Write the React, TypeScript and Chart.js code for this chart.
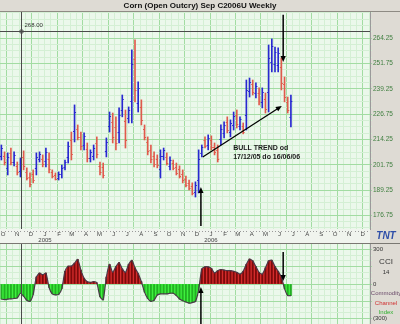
import React, { useEffect, useRef } from 'react';
import { Chart, registerables } from 'chart.js';
Chart.register(...registerables);

const FONT = 'Arial, "Liberation Sans", sans-serif';
const TITLE = 'Corn (Open Outcry) Sep C2006U Weekly';

// weekly bars, first week
const FIRST_WEEK = '2004-09-27';
const HIGHS = [
  211.5, 208.1, 207.6, 210.0, 208.1, 203.1, 205.1, 208.6, 200.2, 197.7,
  199.2, 207.6, 208.1, 206.6, 210.0, 207.6, 199.2, 197.7, 198.2, 201.6,
  204.1, 213.0, 217.9, 231.3, 221.4, 217.9, 217.5, 212.5, 209.1, 211.5,
  215.5, 203.1, 202.6, 215.0, 227.8, 227.3, 225.4, 229.8, 236.2, 228.8,
  230.3, 258.5, 263.4, 242.7, 233.8, 221.4, 215.5, 211.5, 208.1, 206.6,
  209.1, 210.0, 207.6, 205.6, 204.1, 202.6, 201.2, 199.2, 196.2, 194.2,
  192.8, 193.3, 209.1, 211.5, 215.5, 216.5, 216.0, 212.5, 211.5, 221.4,
  222.9, 225.4, 223.9, 227.8, 228.8, 225.4, 222.4, 243.6, 244.6, 243.6,
  242.2, 239.7, 239.7, 237.2, 260.9, 263.9, 259.9, 259.5, 254.5, 245.1,
  235.2, 236.2,
];
const LOWS = [
  204.1, 201.6, 196.7, 201.6, 201.2, 196.7, 195.7, 199.2, 194.2, 190.8,
  192.8, 196.7, 203.1, 200.7, 200.7, 197.7, 195.2, 194.2, 194.2, 195.2,
  199.2, 202.6, 204.1, 213.0, 214.0, 209.1, 209.1, 203.1, 203.1, 204.1,
  205.1, 196.7, 195.2, 205.6, 217.9, 212.5, 209.1, 212.5, 225.4, 210.0,
  222.4, 222.4, 232.8, 227.8, 221.4, 214.0, 206.6, 202.6, 200.7, 200.2,
  195.2, 204.1, 201.6, 199.2, 199.2, 196.7, 195.2, 192.8, 190.8, 189.3,
  186.8, 185.8, 187.8, 205.6, 210.0, 209.1, 209.1, 206.6, 203.1, 211.5,
  215.0, 217.5, 215.5, 218.9, 219.9, 218.9, 217.0, 218.9, 235.2, 236.2,
  234.8, 231.3, 229.8, 227.3, 227.8, 247.6, 247.6, 247.6, 238.7, 232.8,
  227.3, 220.4,
];
const OPENS = [
  206.3, 206.2, 200.0, 207.5, 203.3, 201.2, 198.5, 205.8, 198.4, 195.6,
  197.3, 200.0, 204.6, 204.8, 203.5, 204.6, 198.0, 196.6, 195.4, 197.1,
  200.7, 205.7, 213.8, 218.5, 219.2, 215.3, 211.6, 209.7, 204.9, 206.3,
  212.4, 201.2, 200.4, 208.4, 220.9, 222.9, 220.5, 217.7, 228.6, 223.2,
  224.8, 233.2, 254.2, 232.3, 230.1, 219.2, 212.8, 208.8, 205.9, 204.7,
  199.4, 205.9, 205.8, 201.1, 202.6, 200.8, 199.4, 197.3, 194.6, 192.7,
  191.0, 188.1, 194.2, 207.4, 213.9, 211.3, 213.9, 210.7, 209.0, 214.5,
  217.4, 223.0, 218.0, 221.6, 226.1, 220.9, 220.8, 226.3, 238.0, 241.4,
  237.0, 237.2, 232.8, 234.2, 237.7, 252.5, 251.3, 251.2, 249.8, 241.4,
  232.8, 225.1,
];
const CLOSES = [
  210.0, 202.9, 205.4, 203.3, 206.7, 198.0, 203.2, 201.1, 195.4, 192.2,
  194.1, 205.4, 207.1, 201.9, 208.1, 199.7, 196.0, 194.9, 197.4, 200.3,
  203.1, 210.9, 206.9, 227.6, 215.5, 210.9, 215.8, 205.0, 207.9, 210.0,
  207.2, 198.0, 196.7, 213.1, 225.8, 215.5, 212.4, 226.3, 234.0, 213.8,
  228.7, 251.3, 238.9, 239.7, 223.9, 215.5, 208.4, 204.4, 202.2, 201.5,
  206.3, 208.8, 202.8, 204.3, 200.2, 197.9, 196.4, 194.1, 191.9, 190.3,
  188.0, 191.8, 204.8, 210.3, 211.1, 215.0, 210.5, 207.8, 204.8, 219.4,
  221.3, 219.1, 222.2, 226.0, 221.7, 224.1, 218.1, 238.7, 242.7, 237.7,
  240.7, 233.0, 237.7, 229.3, 254.3, 260.6, 257.4, 257.1, 241.9, 235.3,
  228.9, 233.0,
];
const CCI = [
  -130, -135, -130, -128, -125, -120, -80, -105, -140, -150,
  -90, 60, 94, 80, 94, -30, -85, -94, -90, -40,
  110, 154, 154, 180, 213, 120, 50, 20, 15, 20,
  10, -110, -137, 60, 170, 100, 150, 185, 130, 100,
  170, 205, 140, 90, 20, -70, -125, -150, -140, -95,
  -85, -85, -85, -80, -80, -100, -130, -145, -155, -165,
  -160, -150, -50, 130, 148, 148, 135, 95, 115, 125,
  120, 115, 115, 110, 100, 85, 110, 170, 215, 200,
  150, 100, 85, 140, 200, 205, 150, 110, 60, -40,
  -100, -100,
];

// axes
const X_START = '2004-09-24';
const X_END = '2006-12-17';
const GRID_ANCHOR = '2004-12-03';
const MONTH_LETTERS = ['J', 'F', 'M', 'A', 'M', 'J', 'J', 'A', 'S', 'O', 'N', 'D'];
const PRICE_MIN = 170.0;
const PRICE_MAX = 277.2;
const PRICE_LABELS = ['176.75', '189.25', '201.75', '214.25', '226.75', '239.25', '251.75', '264.25'];
const CCI_MIN = -345;
const CCI_MAX = 345;
const CCI_LABEL_VALUES = [300, 0, -300];
const CCI_LABEL_TEXT = ['300', '0', '(300)'];
const CCI_SIDE_TEXT = ['CCI', '14', 'Commodity', 'Channel', 'Index'];

// annotations
const CROSS_DATE = '2004-11-09';
const CROSS_PRICE = 268.0;
const CROSS_LABEL = '268.00';
const UP_ARROW = { date: '2005-12-10', from: 171.5, to: 190.8 };
const DOWN_ARROW = { date: '2006-06-09', from: 275.8, to: 252.5 };
const TREND = { d1: '2005-12-14', p1: 205.6, d2: '2006-06-06', p2: 230.8 };
const NOTE_LINES = ['BULL TREND od', '17/12/05 do 16/06/06'];
const NOTE_DATE = '2006-02-19';
const NOTE_PRICES = [210.0, 205.3];
const CCI_UP = { date: '2005-12-10', from: -345, to: -26 };
const CCI_DOWN = { date: '2006-06-09', from: 276, to: 26 };

const BLUE = '#2828d0';
const RED = '#e05a4c';
const PANEL_BG = '#dedbd4';
const PLOT_BG = '#ebf8eb';
const BAND_BG = '#f0f4ee';
const GRID_MAJOR = '#a2dca2';
const GRID_MINOR = '#d4efd4';

const BASE = Date.UTC(2005, 0, 1);
function dayOf(s: string) {
  const [y, m, d] = s.split('-').map(Number);
  return Math.round((Date.UTC(y, m - 1, d) - BASE) / 86400000);
}
const X_MIN = dayOf(X_START);
const X_MAX = dayOf(X_END);
const WEEKS = HIGHS.map((_, i) => dayOf(FIRST_WEEK) + 7 * i);

const GRID_DAYS: number[] = [];
{
  const a = dayOf(GRID_ANCHOR);
  let v = a;
  while (v - 14 >= X_MIN) v -= 14;
  for (; v <= X_MAX; v += 14) GRID_DAYS.push(v);
}
const isMajorDay = (v: number) => (((v - dayOf(GRID_ANCHOR)) % 56) + 56) % 56 === 0;

const MONTHS: { day: number; label: string | string[] }[] = [];
{
  let y = 2004, m = 9;
  while (true) {
    const d = Math.round((Date.UTC(y, m, 1) - BASE) / 86400000);
    if (d > X_MAX) break;
    if (d >= X_MIN) MONTHS.push({ day: d, label: m === 0 ? ['J', String(y)] : MONTH_LETTERS[m] });
    m++;
    if (m > 11) { m = 0; y++; }
  }
}

const PRICE_MAJORS = PRICE_LABELS.map(Number);
const PRICE_GRID: number[] = [];
{
  const step = (PRICE_MAJORS[1] - PRICE_MAJORS[0]) / 4;
  let v = PRICE_MAJORS[0];
  while (v - step >= PRICE_MIN) v -= step;
  for (; v <= PRICE_MAX; v += step) PRICE_GRID.push(v);
}
const isMajorPrice = (v: number) => PRICE_MAJORS.some((m) => Math.abs(m - v) < 1e-6);

const CCI_GRID: number[] = [];
for (let v = -300; v <= 300; v += 50) CCI_GRID.push(v);

function drawArrow(ctx: CanvasRenderingContext2D, x1: number, y1: number, x2: number, y2: number) {
  const head = 6, half = 2.6;
  const a = Math.atan2(y2 - y1, x2 - x1);
  ctx.beginPath();
  ctx.moveTo(x1, y1);
  ctx.lineTo(x2 - Math.cos(a) * head * 0.7, y2 - Math.sin(a) * head * 0.7);
  ctx.stroke();
  ctx.beginPath();
  ctx.moveTo(x2, y2);
  ctx.lineTo(x2 - head * Math.cos(a) + half * Math.sin(a), y2 - head * Math.sin(a) - half * Math.cos(a));
  ctx.lineTo(x2 - head * Math.cos(a) - half * Math.sin(a), y2 - head * Math.sin(a) + half * Math.cos(a));
  ctx.closePath();
  ctx.fill();
}

const gridXAxis = () => ({
  type: 'linear',
  position: 'bottom',
  min: X_MIN,
  max: X_MAX,
  offset: false,
  bounds: 'data',
  afterBuildTicks: (s: any) => { s.ticks = GRID_DAYS.map((v) => ({ value: v })); },
  afterFit: (s: any) => { s.height = 0; s.paddingLeft = 0; s.paddingRight = 0; },
  ticks: { display: false, autoSkip: false },
  grid: {
    offset: false,
    drawTicks: false,
    lineWidth: 1,
    color: (c: any) => (c.tick && isMajorDay(c.tick.value) ? GRID_MAJOR : GRID_MINOR),
  },
  border: { display: false },
});

const mainPlugin = {
  id: 'mainDeco',
  beforeDraw(chart: any) {
    const { ctx, chartArea: ca, width, height } = chart;
    ctx.save();
    ctx.fillStyle = PANEL_BG;
    ctx.fillRect(0, 0, width, height);
    ctx.fillStyle = PLOT_BG;
    ctx.fillRect(ca.left, ca.top, ca.right - ca.left, ca.bottom - ca.top);
    ctx.fillStyle = BAND_BG;
    ctx.fillRect(ca.left, ca.bottom, ca.right - ca.left, height - ca.bottom);
    ctx.strokeStyle = '#8e8b84';
    ctx.lineWidth = 1;
    ctx.beginPath();
    ctx.moveTo(0, ca.top - 0.5);
    ctx.lineTo(width, ca.top - 0.5);
    ctx.stroke();
    ctx.restore();
  },
  afterDatasetsDraw(chart: any) {
    const { ctx, chartArea: ca } = chart;
    const x = chart.scales.x, y = chart.scales.y;
    ctx.save();
    // open / close ticks
    ctx.lineWidth = 1;
    WEEKS.forEach((d, i) => {
      const px = x.getPixelForValue(d);
      ctx.strokeStyle = CLOSES[i] >= OPENS[i] ? BLUE : RED;
      const yo = Math.round(y.getPixelForValue(OPENS[i])) + 0.5;
      const yc = Math.round(y.getPixelForValue(CLOSES[i])) + 0.5;
      ctx.beginPath();
      ctx.moveTo(px - 1.5, yo);
      ctx.lineTo(px, yo);
      ctx.moveTo(px, yc);
      ctx.lineTo(px + 1.5, yc);
      ctx.stroke();
    });
    // weekly dotted ticks in band
    ctx.fillStyle = '#9a9a9a';
    for (let d = X_MIN + 3; d <= X_MAX; d += 7) {
      ctx.fillRect(Math.round(x.getPixelForValue(d)), ca.bottom + 2, 1, 1);
    }
    // crosshair
    const cx = Math.round(x.getPixelForValue(dayOf(CROSS_DATE))) + 0.5;
    const cy = Math.round(y.getPixelForValue(CROSS_PRICE)) + 0.5;
    ctx.strokeStyle = '#4a4a4a';
    ctx.beginPath();
    ctx.moveTo(cx, ca.top);
    ctx.lineTo(cx, ca.bottom);
    ctx.moveTo(ca.left, cy);
    ctx.lineTo(ca.right, cy);
    ctx.stroke();
    ctx.beginPath();
    ctx.arc(cx, cy, 1.8, 0, Math.PI * 2);
    ctx.stroke();
    ctx.fillStyle = '#333';
    ctx.font = '6px ' + FONT;
    ctx.textAlign = 'left';
    ctx.textBaseline = 'middle';
    ctx.fillText(CROSS_LABEL, cx + 3, cy - 6);
    // arrows
    ctx.strokeStyle = '#000';
    ctx.fillStyle = '#000';
    ctx.lineWidth = 1.5;
    const ux = x.getPixelForValue(dayOf(UP_ARROW.date));
    drawArrow(ctx, ux, y.getPixelForValue(UP_ARROW.from), ux, y.getPixelForValue(UP_ARROW.to));
    const dx = x.getPixelForValue(dayOf(DOWN_ARROW.date));
    drawArrow(ctx, dx, y.getPixelForValue(DOWN_ARROW.from), dx, y.getPixelForValue(DOWN_ARROW.to));
    ctx.lineWidth = 1.3;
    drawArrow(
      ctx,
      x.getPixelForValue(dayOf(TREND.d1)), y.getPixelForValue(TREND.p1),
      x.getPixelForValue(dayOf(TREND.d2)), y.getPixelForValue(TREND.p2),
    );
    // note
    ctx.fillStyle = '#1a1a1a';
    ctx.font = 'bold 7px ' + FONT;
    ctx.textAlign = 'left';
    ctx.textBaseline = 'middle';
    NOTE_LINES.forEach((t, i) => {
      ctx.fillText(t, x.getPixelForValue(dayOf(NOTE_DATE)), y.getPixelForValue(NOTE_PRICES[i]));
    });
    ctx.restore();
  },
  afterDraw(chart: any) {
    const { ctx, chartArea: ca, width, height } = chart;
    ctx.save();
    ctx.strokeStyle = '#7a7872';
    ctx.lineWidth = 1;
    ctx.beginPath();
    ctx.moveTo(0, height - 0.5);
    ctx.lineTo(width, height - 0.5);
    ctx.stroke();
    ctx.font = 'italic bold 10px ' + FONT;
    ctx.textAlign = 'center';
    ctx.textBaseline = 'middle';
    ctx.fillStyle = '#2f4fa8';
    ctx.fillText('TNT', (ca.right + width) / 2 + 1, (ca.bottom + height) / 2);
    ctx.restore();
  },
};

const cciPlugin = {
  id: 'cciDeco',
  beforeDraw(chart: any) {
    const { ctx, chartArea: ca, width, height } = chart;
    ctx.save();
    ctx.fillStyle = PANEL_BG;
    ctx.fillRect(0, 0, width, height);
    ctx.fillStyle = PLOT_BG;
    ctx.fillRect(ca.left, ca.top, ca.right - ca.left, ca.bottom - ca.top);
    ctx.restore();
  },
  afterDatasetsDraw(chart: any) {
    const { ctx, chartArea: ca } = chart;
    const x = chart.scales.x, y = chart.scales.y;
    ctx.save();
    const cx = Math.round(x.getPixelForValue(dayOf(CROSS_DATE))) + 0.5;
    ctx.strokeStyle = '#4a4a4a';
    ctx.lineWidth = 1;
    ctx.beginPath();
    ctx.moveTo(cx, ca.top);
    ctx.lineTo(cx, ca.bottom);
    ctx.stroke();
    ctx.strokeStyle = '#000';
    ctx.fillStyle = '#000';
    ctx.lineWidth = 1.5;
    const ux = x.getPixelForValue(dayOf(CCI_UP.date));
    drawArrow(ctx, ux, y.getPixelForValue(CCI_UP.from), ux, y.getPixelForValue(CCI_UP.to));
    const dx = x.getPixelForValue(dayOf(CCI_DOWN.date));
    drawArrow(ctx, dx, y.getPixelForValue(CCI_DOWN.from), dx, y.getPixelForValue(CCI_DOWN.to));
    ctx.restore();
  },
  afterDraw(chart: any) {
    const { ctx, chartArea: ca, width } = chart;
    const mid = (ca.right + width) / 2;
    ctx.save();
    ctx.textAlign = 'center';
    ctx.textBaseline = 'middle';
    const specs = [
      { y: 18, font: '8px ' + FONT, color: '#333' },
      { y: 28, font: '6px ' + FONT, color: '#333' },
      { y: 49, font: '6px ' + FONT, color: '#6a4a6a' },
      { y: 59, font: '6px ' + FONT, color: '#d03030' },
      { y: 68, font: '6px ' + FONT, color: '#30b030' },
    ];
    CCI_SIDE_TEXT.forEach((t, i) => {
      ctx.font = specs[i].font;
      ctx.fillStyle = specs[i].color;
      ctx.fillText(t, mid + 1, specs[i].y);
    });
    ctx.restore();
  },
};

export default function App() {
  const mainRef = useRef<HTMLCanvasElement>(null);
  const cciRef = useRef<HTMLCanvasElement>(null);

  useEffect(() => {
    Chart.defaults.font.family = FONT;
    const main = new Chart(mainRef.current as HTMLCanvasElement, {
      type: 'bar',
      data: {
        datasets: [
          {
            type: 'bar',
            data: WEEKS.map((d, i) => ({ x: d, y: [LOWS[i], HIGHS[i]] })) as any,
            backgroundColor: WEEKS.map((_, i) => (CLOSES[i] >= OPENS[i] ? BLUE : RED)),
            barThickness: 1,
            borderWidth: 0,
            grouped: false,
            xAxisID: 'x',
            yAxisID: 'y',
          } as any,
        ],
      },
      options: {
        responsive: false,
        animation: false,
        devicePixelRatio: 1,
        events: [],
        layout: { padding: 0, autoPadding: false } as any,
        plugins: {
          legend: { display: false },
          tooltip: { enabled: false },
          title: {
            display: true,
            text: TITLE,
            color: '#111',
            font: { size: 8, weight: 'bold', family: FONT, lineHeight: 1.25 },
            padding: { top: 1, bottom: 1 },
          },
        },
        scales: {
          x: gridXAxis() as any,
          xm: {
            type: 'linear',
            position: 'bottom',
            min: X_MIN,
            max: X_MAX,
            offset: false,
            bounds: 'data',
            afterBuildTicks: (s: any) => { s.ticks = MONTHS.map((m) => ({ value: m.day })); },
            afterFit: (s: any) => { s.height = 15; s.paddingLeft = 0; s.paddingRight = 0; },
            ticks: {
              autoSkip: false,
              maxRotation: 0,
              minRotation: 0,
              padding: 2,
              color: '#444',
              font: { size: 6, family: FONT, lineHeight: 1 },
              callback: (_v: any, i: number) => MONTHS[i] ? MONTHS[i].label : '',
            },
            grid: { display: false, drawTicks: false, offset: false },
            border: { display: false },
          } as any,
          y: {
            type: 'linear',
            position: 'right',
            min: PRICE_MIN,
            max: PRICE_MAX,
            bounds: 'data',
            afterBuildTicks: (s: any) => { s.ticks = PRICE_GRID.map((v) => ({ value: v })); },
            afterFit: (s: any) => { s.width = 30; s.paddingTop = 0; s.paddingBottom = 0; },
            ticks: {
              autoSkip: false,
              padding: 1,
              color: '#3f7f3f',
              font: { size: 6.5, family: FONT },
              callback: (v: any) => {
                const k = PRICE_MAJORS.findIndex((m) => Math.abs(m - Number(v)) < 1e-6);
                return k >= 0 ? PRICE_LABELS[k] : '';
              },
            },
            grid: {
              drawTicks: true,
              tickLength: 2,
              lineWidth: 1,
              color: (c: any) => (c.tick && isMajorPrice(c.tick.value) ? GRID_MAJOR : GRID_MINOR),
            },
            border: { color: '#9a9a9a' },
          } as any,
        },
      },
      plugins: [mainPlugin as any],
    });

    const cci = new Chart(cciRef.current as HTMLCanvasElement, {
      type: 'line',
      data: {
        datasets: [
          {
            type: 'line',
            data: WEEKS.map((d, i) => ({ x: d, y: CCI[i] })),
            borderColor: '#4a3848',
            borderWidth: 1.2,
            pointRadius: 0,
            tension: 0.2,
            fill: { target: { value: 0 }, above: '#d42c2c', below: '#3ef03e' },
            order: 0,
          } as any,
          {
            type: 'bar',
            data: WEEKS.map((d, i) => ({ x: d, y: CCI[i] })),
            backgroundColor: CCI.map((v) => (v >= 0 ? '#7c0a0a' : '#22b022')),
            barThickness: 1.2,
            borderWidth: 0,
            grouped: false,
            order: 1,
          } as any,
        ],
      },
      options: {
        responsive: false,
        animation: false,
        devicePixelRatio: 1,
        events: [],
        layout: { padding: 0, autoPadding: false } as any,
        plugins: {
          legend: { display: false },
          tooltip: { enabled: false },
          title: { display: false },
          filler: { drawTime: 'beforeDatasetsDraw' },
        } as any,
        scales: {
          x: gridXAxis() as any,
          y: {
            type: 'linear',
            position: 'right',
            min: CCI_MIN,
            max: CCI_MAX,
            bounds: 'data',
            afterBuildTicks: (s: any) => { s.ticks = CCI_GRID.map((v) => ({ value: v })); },
            afterFit: (s: any) => { s.width = 30; s.paddingTop = 0; s.paddingBottom = 0; },
            ticks: {
              autoSkip: false,
              padding: 1,
              color: '#333',
              font: { size: 6, family: FONT },
              callback: (v: any) => {
                const k = CCI_LABEL_VALUES.indexOf(Number(v));
                return k >= 0 ? CCI_LABEL_TEXT[k] : '';
              },
            },
            grid: {
              drawTicks: true,
              tickLength: 2,
              lineWidth: 1,
              color: (c: any) => (c.tick && c.tick.value % 150 === 0 ? GRID_MAJOR : GRID_MINOR),
            },
            border: { color: '#9a9a9a' },
          } as any,
        },
      },
      plugins: [cciPlugin as any],
    });

    return () => {
      main.destroy();
      cci.destroy();
    };
  }, []);

  return (
    <div style={{ position: 'fixed', left: 0, top: 0, width: 400, height: 324, background: PANEL_BG }}>
      <canvas ref={mainRef} width={400} height={244} style={{ position: 'absolute', left: 0, top: 0, width: 400, height: 244 }} />
      <canvas ref={cciRef} width={400} height={80} style={{ position: 'absolute', left: 0, top: 244, width: 400, height: 80 }} />
    </div>
  );
}
